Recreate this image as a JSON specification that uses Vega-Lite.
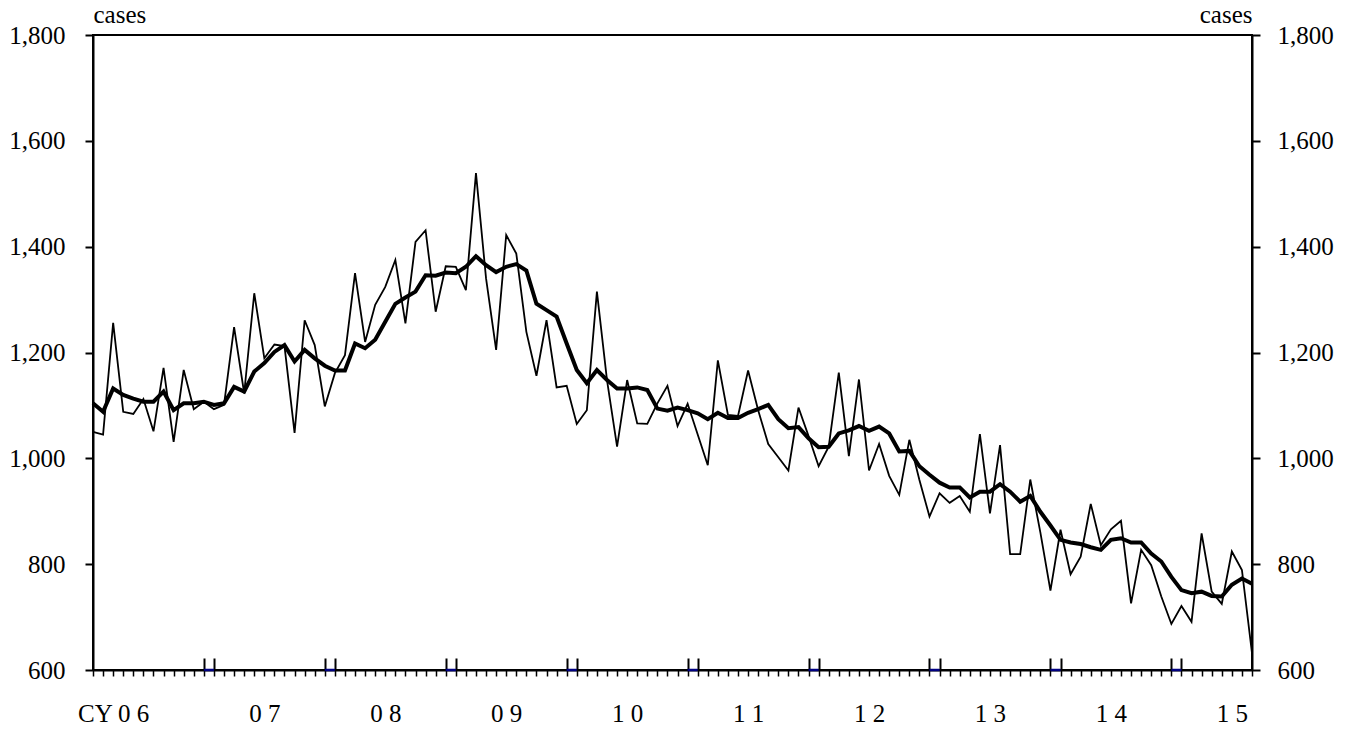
{
  "$schema": "https://vega.github.io/schema/vega-lite/v6.json",
  "width": 1159,
  "height": 635,
  "autosize": {"type": "none"},
  "padding": {"left": 93, "top": 35, "right": 102, "bottom": 59},
  "background": "white",
  "config": {
    "view": {"stroke": "black", "strokeWidth": 2},
    "font": "Times New Roman, Liberation Serif, serif",
    "axis": {
      "labelFont": "Times New Roman, Liberation Serif, serif",
      "titleFont": "Times New Roman, Liberation Serif, serif",
      "labelColor": "black",
      "titleColor": "black",
      "domainColor": "black",
      "tickColor": "black",
      "grid": false
    }
  },
  "datasets": {
    "series": [
      {"month": "2006-01", "monthly": 1050, "trend": 1104},
      {"month": "2006-02", "monthly": 1045, "trend": 1088},
      {"month": "2006-03", "monthly": 1256, "trend": 1132},
      {"month": "2006-04", "monthly": 1088, "trend": 1120},
      {"month": "2006-05", "monthly": 1084, "trend": 1113},
      {"month": "2006-06", "monthly": 1112, "trend": 1107},
      {"month": "2006-07", "monthly": 1051, "trend": 1107},
      {"month": "2006-08", "monthly": 1171, "trend": 1126},
      {"month": "2006-09", "monthly": 1031, "trend": 1091},
      {"month": "2006-10", "monthly": 1167, "trend": 1104},
      {"month": "2006-11", "monthly": 1093, "trend": 1104},
      {"month": "2006-12", "monthly": 1107, "trend": 1107},
      {"month": "2007-01", "monthly": 1093, "trend": 1101},
      {"month": "2007-02", "monthly": 1101, "trend": 1104},
      {"month": "2007-03", "monthly": 1248, "trend": 1135},
      {"month": "2007-04", "monthly": 1123, "trend": 1126},
      {"month": "2007-05", "monthly": 1312, "trend": 1164},
      {"month": "2007-06", "monthly": 1189, "trend": 1180},
      {"month": "2007-07", "monthly": 1215, "trend": 1201},
      {"month": "2007-08", "monthly": 1212, "trend": 1214},
      {"month": "2007-09", "monthly": 1048, "trend": 1183},
      {"month": "2007-10", "monthly": 1261, "trend": 1205},
      {"month": "2007-11", "monthly": 1214, "trend": 1189},
      {"month": "2007-12", "monthly": 1098, "trend": 1175},
      {"month": "2008-01", "monthly": 1161, "trend": 1166},
      {"month": "2008-02", "monthly": 1195, "trend": 1166},
      {"month": "2008-03", "monthly": 1350, "trend": 1217},
      {"month": "2008-04", "monthly": 1220, "trend": 1208},
      {"month": "2008-05", "monthly": 1290, "trend": 1224},
      {"month": "2008-06", "monthly": 1324, "trend": 1258},
      {"month": "2008-07", "monthly": 1375, "trend": 1292},
      {"month": "2008-08", "monthly": 1255, "trend": 1304},
      {"month": "2008-09", "monthly": 1409, "trend": 1315},
      {"month": "2008-10", "monthly": 1431, "trend": 1346},
      {"month": "2008-11", "monthly": 1277, "trend": 1345},
      {"month": "2008-12", "monthly": 1363, "trend": 1351},
      {"month": "2009-01", "monthly": 1362, "trend": 1350},
      {"month": "2009-02", "monthly": 1318, "trend": 1362},
      {"month": "2009-03", "monthly": 1539, "trend": 1382},
      {"month": "2009-04", "monthly": 1340, "trend": 1365},
      {"month": "2009-05", "monthly": 1205, "trend": 1352},
      {"month": "2009-06", "monthly": 1422, "trend": 1362},
      {"month": "2009-07", "monthly": 1387, "trend": 1367},
      {"month": "2009-08", "monthly": 1239, "trend": 1355},
      {"month": "2009-09", "monthly": 1156, "trend": 1292},
      {"month": "2009-10", "monthly": 1261, "trend": 1280},
      {"month": "2009-11", "monthly": 1134, "trend": 1268},
      {"month": "2009-12", "monthly": 1137, "trend": 1217},
      {"month": "2010-01", "monthly": 1065, "trend": 1167},
      {"month": "2010-02", "monthly": 1091, "trend": 1142},
      {"month": "2010-03", "monthly": 1315, "trend": 1167},
      {"month": "2010-04", "monthly": 1148, "trend": 1148},
      {"month": "2010-05", "monthly": 1022, "trend": 1132},
      {"month": "2010-06", "monthly": 1148, "trend": 1132},
      {"month": "2010-07", "monthly": 1066, "trend": 1134},
      {"month": "2010-08", "monthly": 1065, "trend": 1129},
      {"month": "2010-09", "monthly": 1104, "trend": 1094},
      {"month": "2010-10", "monthly": 1137, "trend": 1090},
      {"month": "2010-11", "monthly": 1061, "trend": 1096},
      {"month": "2010-12", "monthly": 1103, "trend": 1091},
      {"month": "2011-01", "monthly": 1045, "trend": 1085},
      {"month": "2011-02", "monthly": 987, "trend": 1074},
      {"month": "2011-03", "monthly": 1185, "trend": 1086},
      {"month": "2011-04", "monthly": 1082, "trend": 1076},
      {"month": "2011-05", "monthly": 1080, "trend": 1076},
      {"month": "2011-06", "monthly": 1166, "trend": 1086},
      {"month": "2011-07", "monthly": 1091, "trend": 1093},
      {"month": "2011-08", "monthly": 1027, "trend": 1101},
      {"month": "2011-09", "monthly": 1002, "trend": 1074},
      {"month": "2011-10", "monthly": 977, "trend": 1057},
      {"month": "2011-11", "monthly": 1096, "trend": 1059},
      {"month": "2011-12", "monthly": 1042, "trend": 1038},
      {"month": "2012-01", "monthly": 985, "trend": 1021},
      {"month": "2012-02", "monthly": 1022, "trend": 1022},
      {"month": "2012-03", "monthly": 1162, "trend": 1047},
      {"month": "2012-04", "monthly": 1004, "trend": 1053},
      {"month": "2012-05", "monthly": 1149, "trend": 1061},
      {"month": "2012-06", "monthly": 977, "trend": 1052},
      {"month": "2012-07", "monthly": 1027, "trend": 1060},
      {"month": "2012-08", "monthly": 967, "trend": 1047},
      {"month": "2012-09", "monthly": 931, "trend": 1013},
      {"month": "2012-10", "monthly": 1035, "trend": 1014},
      {"month": "2012-11", "monthly": 959, "trend": 985},
      {"month": "2012-12", "monthly": 890, "trend": 969},
      {"month": "2013-01", "monthly": 934, "trend": 954},
      {"month": "2013-02", "monthly": 916, "trend": 945},
      {"month": "2013-03", "monthly": 929, "trend": 945},
      {"month": "2013-04", "monthly": 899, "trend": 926},
      {"month": "2013-05", "monthly": 1046, "trend": 937},
      {"month": "2013-06", "monthly": 896, "trend": 937},
      {"month": "2013-07", "monthly": 1025, "trend": 951},
      {"month": "2013-08", "monthly": 819, "trend": 937},
      {"month": "2013-09", "monthly": 819, "trend": 918},
      {"month": "2013-10", "monthly": 960, "trend": 929},
      {"month": "2013-11", "monthly": 860, "trend": 899},
      {"month": "2013-12", "monthly": 750, "trend": 873},
      {"month": "2014-01", "monthly": 865, "trend": 846},
      {"month": "2014-02", "monthly": 781, "trend": 841},
      {"month": "2014-03", "monthly": 814, "trend": 838},
      {"month": "2014-04", "monthly": 914, "trend": 832},
      {"month": "2014-05", "monthly": 836, "trend": 827},
      {"month": "2014-06", "monthly": 866, "trend": 846},
      {"month": "2014-07", "monthly": 882, "trend": 849},
      {"month": "2014-08", "monthly": 726, "trend": 841},
      {"month": "2014-09", "monthly": 827, "trend": 841},
      {"month": "2014-10", "monthly": 798, "trend": 820},
      {"month": "2014-11", "monthly": 739, "trend": 805},
      {"month": "2014-12", "monthly": 687, "trend": 776},
      {"month": "2015-01", "monthly": 721, "trend": 751},
      {"month": "2015-02", "monthly": 691, "trend": 745},
      {"month": "2015-03", "monthly": 858, "trend": 748},
      {"month": "2015-04", "monthly": 748, "trend": 740},
      {"month": "2015-05", "monthly": 725, "trend": 739},
      {"month": "2015-06", "monthly": 824, "trend": 761},
      {"month": "2015-07", "monthly": 789, "trend": 773},
      {"month": "2015-08", "monthly": 632, "trend": 763}
    ],
    "breaks": [
      {"from": "2006-12", "to": "2007-01"},
      {"from": "2007-12", "to": "2008-01"},
      {"from": "2008-12", "to": "2009-01"},
      {"from": "2009-12", "to": "2010-01"},
      {"from": "2010-12", "to": "2011-01"},
      {"from": "2011-12", "to": "2012-01"},
      {"from": "2012-12", "to": "2013-01"},
      {"from": "2013-12", "to": "2014-01"},
      {"from": "2014-12", "to": "2015-01"}
    ]
  },
  "resolve": {"axis": {"x": "independent", "y": "independent"}},
  "layer": [
    {
      "data": {"name": "series"},
      "mark": {"type": "line", "color": "black", "strokeWidth": 1.8},
      "encoding": {
        "x": {
          "field": "month",
          "type": "ordinal",
          "scale": {"type": "point", "padding": 0},
          "axis": {
            "orient": "bottom",
            "title": null,
            "tickSize": 6,
            "tickWidth": 1.5,
            "domainWidth": 2,
            "labelAngle": 0,
            "labelFont": "Times New Roman, Liberation Serif, serif",
            "labelFontSize": 25,
            "labelPadding": 45,
            "labelBaseline": "alphabetic",
            "labelAlign": "center",
            "labelOverlap": false,
            "labelFlush": false,
            "labelExpr": "datum.value == '2006-03' ? 'CY 0 6' : ((slice(datum.value, 5) == '06' && datum.value != '2006-06') ? (slice(datum.value, 2, 3) + ' ' + slice(datum.value, 3, 4)) : '')"
          }
        },
        "y": {
          "field": "monthly",
          "type": "quantitative",
          "scale": {"domain": [600, 1800], "nice": false, "zero": false},
          "axis": {
            "orient": "left",
            "values": [600, 800, 1000, 1200, 1400, 1600, 1800],
            "format": ",d",
            "tickSize": 8,
            "tickWidth": 2,
            "domainWidth": 2,
            "labelFont": "Times New Roman, Liberation Serif, serif",
            "labelFontSize": 25,
            "labelPadding": 20,
            "title": "cases",
            "titleFont": "Times New Roman, Liberation Serif, serif",
            "titleAngle": 0,
            "titleX": 0,
            "titleY": -13,
            "titleAlign": "left",
            "titleBaseline": "alphabetic",
            "titleFontSize": 25,
            "titleFontWeight": "normal"
          }
        }
      }
    },
    {
      "data": {"name": "series"},
      "mark": {"type": "line", "color": "black", "strokeWidth": 4},
      "encoding": {
        "x": {
          "field": "month",
          "type": "ordinal",
          "axis": {
            "orient": "bottom",
            "title": null,
            "values": ["2006-12", "2007-01", "2007-12", "2008-01", "2008-12", "2009-01", "2009-12", "2010-01", "2010-12", "2011-01", "2011-12", "2012-01", "2012-12", "2013-01", "2013-12", "2014-01", "2014-12", "2015-01"],
            "tickSize": -12,
            "tickWidth": 2,
            "domain": false,
            "labels": false
          }
        },
        "y": {
          "field": "trend",
          "type": "quantitative",
          "axis": {
            "orient": "right",
            "values": [600, 800, 1000, 1200, 1400, 1600, 1800],
            "format": ",d",
            "tickSize": 8,
            "tickWidth": 2,
            "domainWidth": 2,
            "labelFont": "Times New Roman, Liberation Serif, serif",
            "labelFontSize": 25,
            "labelPadding": 17,
            "title": "cases",
            "titleFont": "Times New Roman, Liberation Serif, serif",
            "titleAngle": 0,
            "titleX": 0,
            "titleY": -13,
            "titleAlign": "right",
            "titleBaseline": "alphabetic",
            "titleFontSize": 25,
            "titleFontWeight": "normal"
          }
        }
      }
    },
    {
      "data": {"name": "breaks"},
      "mark": {"type": "rule", "color": "#000080", "strokeWidth": 2.5},
      "encoding": {
        "x": {"field": "from", "type": "ordinal", "axis": null},
        "x2": {"field": "to"},
        "y": {"datum": 600, "type": "quantitative", "axis": null}
      }
    }
  ]
}
